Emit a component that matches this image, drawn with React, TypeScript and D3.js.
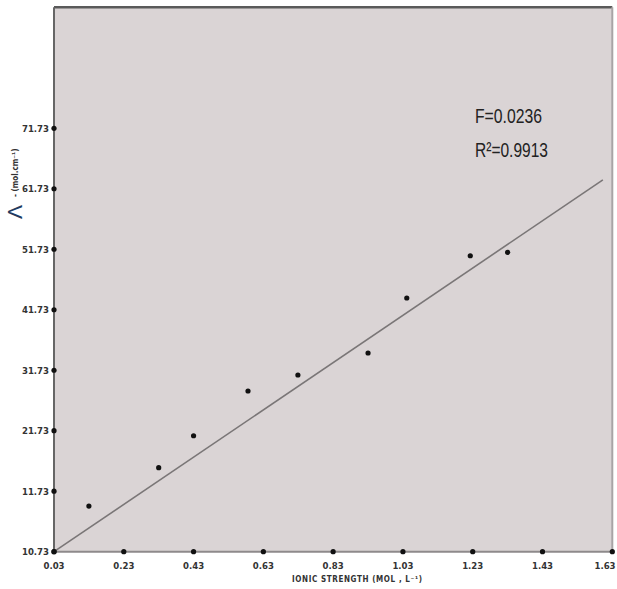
import React from "react";
import * as d3 from "d3";

const xValues = [0.13, 0.33, 0.43, 0.586, 0.729, 0.93, 1.041, 1.223, 1.33];
const yValues = [9.28, 15.62, 20.9, 28.3, 30.94, 34.58, 43.67, 50.66, 51.22];
const fitX = [0.03, 1.603];
const fitY = [1.73, 63.2];
const xTicks = [0.03, 0.23, 0.43, 0.63, 0.83, 1.03, 1.23, 1.43, 1.63];
const xTickLabels = ["0.03", "0.23", "0.43", "0.63", "0.83", "1.03", "1.23", "1.43", "1.63"];
const yTicks = [1.73, 11.73, 21.73, 31.73, 41.73, 51.73, 61.73, 71.73];
const yTickLabels = ["10.73", "11.73", "21.73", "31.73", "41.73", "51.73", "61.73", "71.73"];
const annotations = ["F=0.0236", "R²=0.9913"];

const W = 617;
const H = 589;
const L = 54, R = 612.3, T = 7.3, B = 551.7;

export default function App() {
  const x = d3.scaleLinear().domain([0.03, 1.63]).range([L, R]);
  const y = d3.scaleLinear().domain([1.73, 91.73]).range([B, T]);
  const line = d3.line<number>().x((d, i) => x(fitX[i])).y((d, i) => y(fitY[i]));
  const tickFont = "'Liberation Sans Narrow', 'DejaVu Sans Condensed', 'Liberation Sans', sans-serif";
  return (
    <svg width={W} height={H} style={{ position: "absolute", left: 0, top: 0 }}>
      <rect x={0} y={0} width={W} height={H} fill="#fff" />
      <rect x={L} y={T} width={R - L} height={B - T} fill="#dad4d5" />
      {/* frame */}
      <line x1={L} x2={R} y1={T} y2={T} stroke="#5a5a5a" strokeWidth={2.5} />
      <line x1={R} x2={R} y1={T} y2={B} stroke="#a8a4a5" strokeWidth={2} />
      <line x1={L} x2={R} y1={B} y2={B} stroke="#8e8a8b" strokeWidth={2} />
      <line x1={L} x2={L} y1={T} y2={B} stroke="#666" strokeWidth={2} />
      {/* fit line */}
      <path d={line(fitY) || ""} stroke="#7a7677" strokeWidth={1.6} fill="none" />
      {/* points */}
      {xValues.map((v, i) => (
        <circle key={i} cx={x(v)} cy={y(yValues[i])} r={2.6} fill="#111" />
      ))}
      {/* x ticks */}
      {xTicks.map((t, i) => (
        <g key={"x" + i}>
          <circle cx={x(t)} cy={B} r={2.6} fill="#111" />
          <text x={Math.min(x(t), W - 12)} y={569} textAnchor="middle" fontFamily={tickFont} fontSize={9.5} fontWeight="bold" fill="#333">
            {xTickLabels[i]}
          </text>
        </g>
      ))}
      {/* y ticks */}
      {yTicks.map((t, i) => (
        <g key={"y" + i}>
          <circle cx={L} cy={y(t)} r={2.6} fill="#111" />
          <text x={L - 5} y={y(t) + 3.5} textAnchor="end" fontFamily={tickFont} fontSize={9.5} fontWeight="bold" fill="#333">
            {yTickLabels[i]}
          </text>
        </g>
      ))}
      {/* x title */}
      <text x={292} y={582} fontFamily={tickFont} fontSize={8} fontWeight="bold" fill="#333" textLength={130} lengthAdjust="spacing">
        IONIC  STRENGTH  (MOL , L⁻¹)
      </text>
      {/* y title */}
      <g transform="translate(22,219) rotate(-90)">
        <text x={0} y={0} fontFamily="'Liberation Sans', sans-serif" fontSize={21} fill="#1f3a60">Λ</text>
        <text x={22} y={-4} fontFamily={tickFont} fontSize={8} fontWeight="bold" fill="#333">-  (mol.cm⁻¹)</text>
      </g>
      {/* annotation */}
      <text x={475} y={123} fontFamily="'Liberation Sans Narrow', 'Liberation Sans', sans-serif" fontSize={20} fill="#222" textLength={67} lengthAdjust="spacingAndGlyphs">
        {annotations[0]}
      </text>
      <text x={475} y={157} fontFamily="'Liberation Sans Narrow', 'Liberation Sans', sans-serif" fontSize={20} fill="#222" textLength={73} lengthAdjust="spacingAndGlyphs">
        {annotations[1]}
      </text>
    </svg>
  );
}
